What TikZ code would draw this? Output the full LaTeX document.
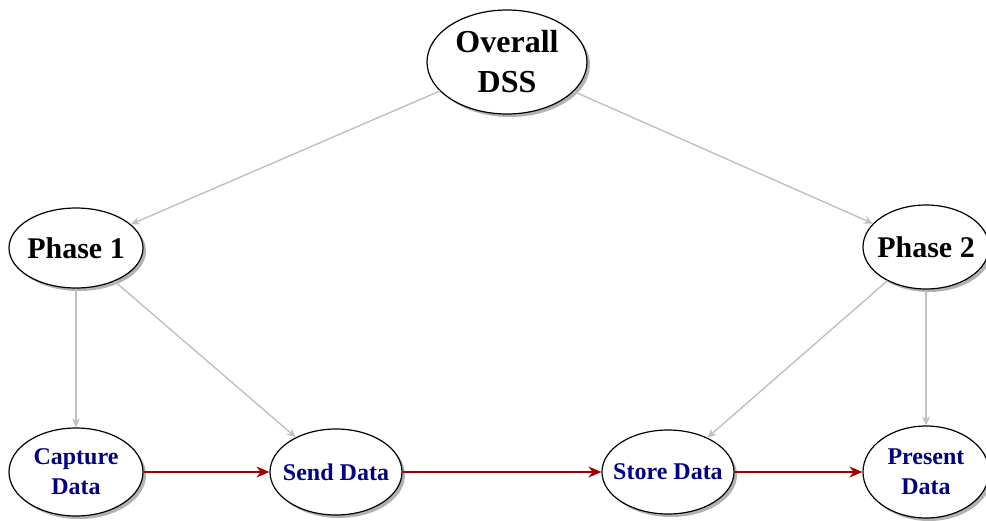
\documentclass[tikz,border=0pt]{standalone}
\usepackage{fontspec}
\setmainfont{Liberation Serif}
\usetikzlibrary{shapes.geometric,shadows,arrows.meta}
\definecolor{edgegray}{RGB}{192,192,192}
\definecolor{flowred}{RGB}{160,0,0}
\definecolor{labelnavy}{RGB}{0,0,128}
\begin{document}
\begin{tikzpicture}[x=1pt,y=-1pt,
  bubble/.style={ellipse, draw=black, line width=1.2pt, fill=white,
    inner xsep=-10pt, inner ysep=0pt, align=center,
    drop shadow={shadow xshift=3pt, shadow yshift=-3pt, fill=black, opacity=0.3}},
  topname/.style={bubble, font=\fontsize{32}{40}\selectfont\bfseries},
  phasename/.style={bubble, font=\fontsize{30}{36}\selectfont\bfseries},
  taskname/.style={bubble, text=labelnavy, font=\fontsize{24}{30}\selectfont\bfseries},
  tree/.style={draw=edgegray, line width=1.4pt, -{Stealth[length=9pt,width=8pt]}},
  flow/.style={draw=flowred, line width=1.6pt, -{Stealth[length=13pt,width=11pt]}}
]
\useasboundingbox (0,0) rectangle (986,520);

% hierarchy
\node[topname, minimum width=160pt, minimum height=104pt] (dss) at (507,62) {Overall\\DSS};
\node[phasename, minimum width=134pt, minimum height=80pt] (p1) at (76,248) {Phase 1};
\node[phasename, minimum width=126pt, minimum height=84pt] (p2) at (926,247) {Phase 2};

% tasks
\node[taskname, minimum width=134pt, minimum height=88pt] (capture) at (76,472) {Capture\\Data};
\node[taskname, minimum width=132pt, minimum height=86pt] (send) at (336,472) {Send Data};
\node[taskname, minimum width=132pt, minimum height=84pt] (store) at (668,472) {Store Data};
\node[taskname, minimum width=126pt, minimum height=92pt] (present) at (926,472) {Present\\Data};

% decomposition links
\draw[tree] (dss) -- (p1);
\draw[tree] (dss) -- (p2);
\draw[tree] (p1.south) -- (capture.north);
\draw[tree] (p1) -- (send);
\draw[tree] (p2) -- (store);
\draw[tree] (p2.south) -- (present.north);

% data flow
\draw[flow] (capture) -- (send);
\draw[flow] (send) -- (store);
\draw[flow] (store) -- (present);
\end{tikzpicture}
\end{document}
